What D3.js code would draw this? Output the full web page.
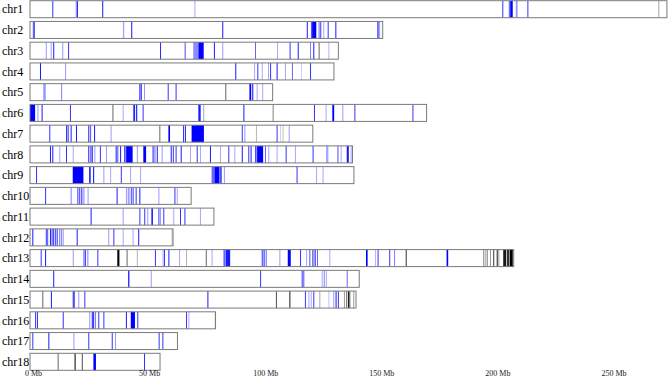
<!DOCTYPE html>
<html>
<head>
<meta charset="utf-8">
<script src="https://cdn.jsdelivr.net/npm/d3@7"></script>
<style>
  body { margin: 0; background: #fff; }
  svg { display: block; }
</style>
</head>
<body>
<div id="chart"></div>
<script>
// chromosome names and lengths (Mb)
const chroms = ["chr1","chr2","chr3","chr4","chr5","chr6","chr7","chr8","chr9",
                "chr10","chr11","chr12","chr13","chr14","chr15","chr16","chr17","chr18"];
const lengths = [274.3, 151.9, 132.8, 130.9, 104.5, 170.8, 121.8, 138.9, 139.5,
                 69.4, 79.2, 61.6, 208.3, 141.8, 140.4, 79.9, 63.5, 56.0];
const tickValues = [0, 50, 100, 150, 200, 250];

// blue marks per chromosome: [start Mb, end Mb, opacity]
const blueMarks = [
  [[9.6,9.6,0.8],[19.7,19.7,0.5],[20.2,20.2,0.9],[31.1,31.1,0.9],[70.8,70.8,0.35],[203.4,203.4,0.8],
   [206.2,206.2,0.7],[206.8,207.9,1],[209.2,210,0.4],[214.2,214.2,0.8]],
  [[1.2,1.2,0.6],[1.6,1.6,0.9],[40,40.6,0.35],[43.6,43.6,0.9],[82.8,82.8,0.9],[119.2,119.2,0.9],
   [121,121,0.7],[121.5,123.3,1],[124.3,124.3,0.6],[125,125,0.8],[126.3,126.3,0.35],[128.2,128.2,0.8],
   [131.5,131.5,0.9],[149.6,150.8,0.35],[149.6,149.6,0.7]],
  [[6.8,6.8,0.4],[8.9,8.9,0.4],[10,10,0.9],[13.9,13.9,0.4],[16.4,16.4,0.8],[56,56,0.85],[66.6,66.6,0.7],
   [70.3,72.4,0.45],[72.5,74.8,1],[79.2,79.2,0.9],[82.8,82.8,0.4],[96.9,96.9,0.6],[106.4,106.4,0.35],
   [111.8,111.8,0.8],[115.3,115.3,0.9],[120.6,120.6,0.5],[122,122,0.9],[128.5,128.5,0.3]],
  [[4.3,4.3,0.9],[15.1,15.1,0.4],[88.4,88.4,0.9],[96.5,96.5,0.35],[97.9,97.9,0.8],[99.8,99.8,0.35],
   [102.5,102.5,0.35],[103.4,103.4,0.8],[106.2,106.2,0.9],[109.8,109.8,0.35],[112.8,112.8,0.6],
   [116.7,116.7,0.2],[120.6,120.6,0.8]],
  [[5.7,6.8,0.4],[13.4,13.4,0.5],[47.1,47.1,0.9],[47.7,47.7,0.9],[49.1,49.1,0.4],[59.3,59.3,0.8],
   [62.7,62.7,0.8],[94.5,95.2,1],[95.5,96.2,0.7],[97.6,97.6,0.35],[100,100,0.35]],
  [[0,2.2,1],[3.2,3.2,0.4],[5,5,0.9],[17.2,17.2,0.8],[39.9,39.9,0.35],[44.5,45.2,0.9],[45.6,46.2,0.8],
   [48.5,48.5,0.8],[72.5,73.5,0.9],[74.6,74.6,0.4],[91.9,91.9,0.9],[122.3,122.3,0.8],[127.3,127.3,0.35],
   [130.2,131,1],[134.5,134.5,0.4],[139.7,139.7,0.8],[164.7,164.7,0.8]],
  [[8.3,8.3,0.8],[15.5,15.5,0.8],[16.2,16.2,0.9],[17.5,17.5,0.9],[19.8,19.8,0.9],[25.1,25.1,0.9],
   [25.9,25.9,0.7],[27.6,27.6,0.9],[34.7,34.7,0.4],[59.6,60.3,1],[65.9,65.9,0.8],[66.7,66.7,0.9],
   [69.6,74.9,1],[91.2,91.2,0.8],[92.3,92.3,0.4],[106.2,106.2,0.8],[107.7,107.7,0.2],[111.4,111.4,0.4]],
  [[8.6,8.6,0.9],[9.6,9.6,0.9],[12.6,12.6,0.35],[15.5,15.5,0.8],[18.4,18.4,0.35],[25.1,25.1,0.9],
   [26,26,0.8],[26.6,26.6,0.9],[27.7,27.7,0.4],[30.1,30.1,0.8],[32.7,32.7,0.4],[36.9,36.9,0.9],
   [37.6,37.6,0.7],[38.8,38.8,0.9],[40.5,41.2,0.7],[41.4,44.2,1],[46,46,0.4],[48.8,50,1],[52.8,52.8,0.9],
   [53.6,53.6,0.6],[54.6,54.6,0.9],[56.7,56.7,0.4],[60.6,60.6,0.9],[61.5,61.5,0.8],[62.7,62.7,0.8],
   [64.9,64.9,0.9],[68.9,68.9,0.35],[71.8,71.8,0.8],[73.2,73.2,0.35],[77.5,77.5,0.9],[81.8,81.8,0.35],
   [85.4,85.4,0.8],[88,88,0.35],[91.2,91.2,0.9],[94,94,0.8],[95,95,0.9],[96.9,97.6,0.7],[97.8,100.4,1],
   [101.2,101.2,0.6],[102.6,102.6,0.35],[106.2,106.2,0.35],[110.1,110.1,0.8],[114.1,114.1,0.35],
   [121.7,121.7,0.8],[127.5,128.5,0.35],[132.4,132.4,0.7],[133.8,133.8,0.35],[136.4,137.3,0.9],
   [138.1,138.1,0.35]],
  [[2.6,2.6,0.8],[18.4,23,1],[25.5,26.1,1],[27.2,27.6,1],[31.6,31.6,0.4],[34.5,34.5,0.35],[39.1,39.1,0.8],
   [43.1,43.1,0.35],[47.4,47.4,0.35],[78.2,79.3,0.6],[79.4,81.5,1],[81.6,82.6,0.7],[83.5,83.5,0.4],
   [114.8,114.8,0.8],[123.2,123.2,0.35],[126,126,0.35]],
  [[6.5,6.5,0.8],[17.5,17.5,0.5],[20.4,20.4,0.8],[21.2,21.2,0.8],[22.1,22.1,0.9],[23,23,0.5],
   [24.8,24.8,0.4],[37.3,37.3,0.9],[41.3,41.3,0.4],[42.1,42.1,0.5],[42.8,42.8,0.4],[43.5,43.5,0.6],
   [44.2,44.2,0.8],[45.5,45.5,0.8],[47.1,47.1,0.9],[55.3,55.3,0.4],[62.2,62.2,0.8],[63.2,63.2,0.35]],
  [[26.1,26.1,0.9],[39.9,39.9,0.4],[47.1,47.1,0.8],[49.2,49.2,0.8],[50.5,50.5,0.4],[52.3,52.9,1],
   [55.3,55.3,0.8],[56,56,0.4],[57.4,57.4,0.8],[61.7,61.7,0.35],[64.6,64.6,0.8],[66.5,66.5,0.8],
   [73.2,73.2,0.35]],
  [[1,1,0.9],[6.8,6.8,0.8],[7.4,7.4,0.7],[8.6,8.6,0.9],[9.3,9.3,0.8],[10,10,0.9],[10.8,10.8,0.7],
   [11.5,11.5,0.8],[12.6,12.6,0.6],[13.4,13.4,0.5],[14.1,14.1,0.4],[20.1,20.1,0.9],[33.7,33.7,0.4],
   [35.9,35.9,0.8],[39.9,39.9,0.35],[44.2,44.2,0.35],[46.6,46.6,0.9]],
  [[4.6,4.6,0.8],[6.5,6.5,0.9],[18.4,18.4,0.4],[23,23,0.6],[23.6,23.6,0.9],[24.7,24.7,0.5],[29,29,0.8],
   [53.8,53.8,0.8],[57.1,57.1,0.35],[57.7,57.7,0.8],[59.6,59.6,0.9],[64.2,64.2,0.35],[78.2,78.2,0.35],
   [83.3,84,0.6],[84.2,86.2,0.9],[99.8,99.8,0.8],[100.6,100.6,0.9],[101.5,101.5,0.6],[107.4,107.4,0.4],
   [111,112.3,1],[116.3,116.3,0.8],[118.9,118.9,0.35],[120.3,120.3,0.7],[121.5,121.5,0.6],
   [122.6,122.6,0.9],[123.6,123.6,0.6],[128.9,128.9,0.35],[144.7,145.4,1],[148.6,148.6,0.3],
   [149.7,149.7,0.8],[154.7,154.7,0.8],[156.8,156.8,0.5],[179.4,180.1,1]],
  [[10,10,0.9],[42.3,42.8,1],[52,52,0.4],[99.1,99.1,0.8],[117,117,0.8],[117.7,117.7,0.7],
   [125.6,125.6,0.35],[126.5,126.5,0.5],[127.4,127.4,0.35],[136.4,136.4,0.6]],
  [[9,9,0.9],[18.4,18.4,0.9],[18.9,18.9,0.7],[20.8,20.8,0.4],[23.4,23.4,0.8],[76.4,76.4,0.9],
   [118.4,118.4,0.8],[119.9,119.9,0.35],[120.9,120.9,0.35],[122,122,0.8],[128.5,128.5,0.25],
   [130.6,130.6,0.4],[131.6,131.6,0.9],[132.6,132.6,0.8]],
  [[2.2,2.2,0.8],[3,3,0.8],[14.1,14.1,0.8],[25.5,25.5,0.4],[26.6,26.6,0.9],[27.2,27.2,0.9],[28,28,0.5],
   [29.4,29.4,0.8],[31.6,31.6,0.8],[41.3,41.3,0.9],[43.4,45.2,1],[46.2,46.2,0.8],[67.2,67.2,0.8],
   [68.2,68.2,0.35]],
  [[1,1,0.8],[7.9,7.9,0.9],[18.7,18.7,0.4],[25.1,25.1,0.8],[35.2,35.2,0.8],[36.6,36.6,0.4],
   [55.4,55.4,0.8],[57,57,0.8]],
  [[27.3,28.4,1],[49.1,49.1,0.8]]
];

// black marks per chromosome: [start Mb, end Mb, opacity]
const blackMarks = [
  [[270.6,270.6,0.35]],
  [],
  [[124.3,124.3,0.6]],
  [],
  [[84.1,84.1,0.6]],
  [[35.5,35.5,0.6],[104.5,104.5,0.5]],
  [[55.7,55.7,0.6],[97.3,97.3,0.3],[108.8,108.8,0.25]],
  [],
  [],
  [],
  [],
  [[61,61,0.3]],
  [[37.6,38.5,1],[41.6,41.6,0.6],[46,46,0.3],[67.2,67.2,0.3],[75.7,75.7,0.6],[122,122,0.4],
   [161.8,161.8,0.8],[195.2,195.2,0.5],[196,196,0.3],[196.7,196.7,0.5],[198.1,198.1,0.4],
   [199.5,199.5,0.8],[201,201,0.9],[201.7,201.7,0.4],[203.8,205,0.9],[205.3,206.5,0.8],[206.7,207.9,1]],
  [],
  [[5.3,5.3,0.6],[105.9,105.9,0.7],[111.7,111.7,0.9],[124.6,124.6,0.35],[135.2,135.2,0.4],
   [136.1,136.1,0.5],[136.9,136.9,1],[137.5,137.5,0.7],[139.2,139.2,0.4]],
  [[79.5,79.5,0.2]],
  [],
  [[11.9,11.9,0.6],[19.2,19.2,1],[22.3,22.3,0.7]]
];

const W = 669, H = 378;
const svg = d3.select("#chart").append("svg")
    .attr("width", W)
    .attr("height", H);

const x = d3.scaleLinear()
    .domain([0, 274.3])
    .range([30, 30 + 274.3 * 2.322]);

const y = d3.scaleBand()
    .domain(chroms)
    .range([0.7, 370.3])
    .paddingInner(0.18)
    .paddingOuter(0);

const rows = chroms.map((name, i) => ({
    name, len: lengths[i], blue: blueMarks[i], black: blackMarks[i]
}));

const row = svg.selectAll(".chrom")
    .data(rows)
    .enter().append("g")
    .attr("class", "chrom")
    .attr("transform", d => "translate(0," + y(d.name) + ")");

// background
row.append("rect")
    .attr("x", x(0))
    .attr("y", 0)
    .attr("width", d => x(d.len) - x(0))
    .attr("height", y.bandwidth())
    .attr("fill", "#fff");

function drawMarks(sel, key, color) {
    sel.selectAll("rect." + key)
        .data(d => d[key])
        .enter().append("rect")
        .attr("class", key)
        .attr("x", m => x(m[0]))
        .attr("y", 0)
        .attr("width", m => Math.max(1, x(m[1]) - x(m[0])))
        .attr("height", y.bandwidth())
        .attr("fill", color)
        .attr("fill-opacity", m => m[2]);
}
drawMarks(row, "black", "#000");
drawMarks(row, "blue", "#0000ff");

// outline
row.append("rect")
    .attr("x", x(0))
    .attr("y", 0)
    .attr("width", d => x(d.len) - x(0))
    .attr("height", y.bandwidth())
    .attr("fill", "none")
    .attr("stroke", "#7a7a7a")
    .attr("stroke-width", 1);

// labels
row.append("text")
    .attr("x", 2)
    .attr("y", y.bandwidth() / 2 + 4.3)
    .attr("font-family", "'Liberation Serif', 'Times New Roman', serif")
    .attr("font-size", "12px")
    .attr("fill", "#000")
    .text(d => d.name);

// x axis, labels only
const axis = svg.append("g")
    .attr("transform", "translate(3,367.6)")
    .call(d3.axisBottom(x)
        .tickValues(tickValues)
        .tickSize(0)
        .tickFormat(d => d + " Mb"));
axis.select(".domain").remove();
axis.selectAll("text")
    .attr("font-family", "'Liberation Serif', 'Times New Roman', serif")
    .attr("font-size", "8px")
    .attr("fill", "#222");
</script>
</body>
</html>
